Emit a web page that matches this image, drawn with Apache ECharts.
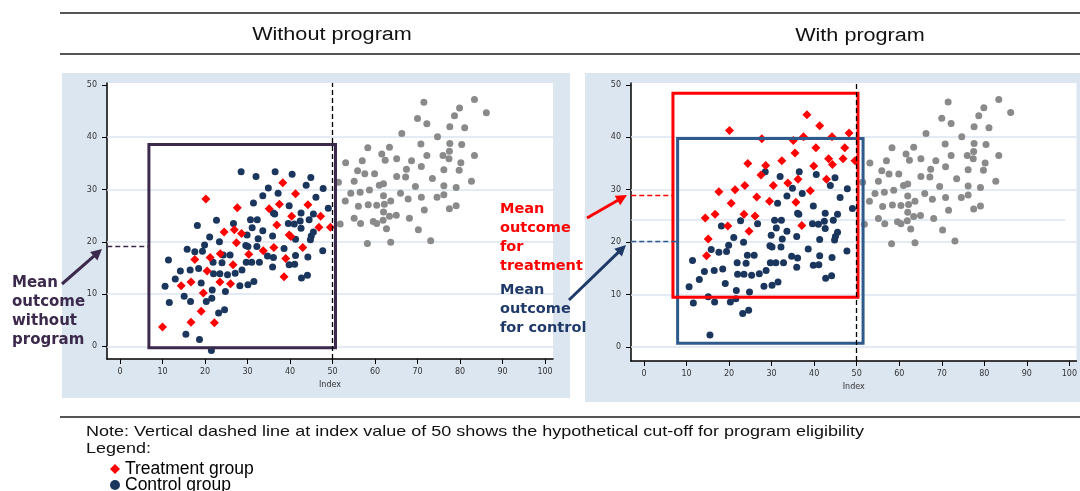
<!DOCTYPE html>
<html>
<head>
<meta charset="utf-8">
<title></title>
<script type="text/javascript" src="https://cdn.jsdelivr.net/npm/echarts@6/dist/echarts.min.js"></script>
</head>
<body style="margin:0;background:#fff;">

<div id="main" style="width: 1080px;height:491px;"></div>

<script type="text/javascript">

// axis ticks and light gridlines
let TICKS_X = [0, 10, 20, 30, 40, 50, 60, 70, 80, 90, 100];
let TICKS_Y = [0, 10, 20, 30, 40, 50];
let GRID_Y = [0, 10, 20, 30, 40];
let CUTOFF = 50;

// units above the cut-off (same in both panels)
let notEligible = [
	[71.5,46.7],[83.4,47.2],[79.9,45.6],[86.2,44.7],[78.7,44.1],[70.0,43.6],[72.2,42.6],[77.6,42.0],
	[81.1,41.8],[66.3,40.7],[74.7,40.1],[58.3,38.0],[63.4,38.1],[61.6,36.8],[70.8,38.7],[77.6,38.8],
	[80.4,38.6],[77.5,37.3],[72.2,36.5],[76.0,36.5],[83.4,36.5],[62.4,35.6],[65.1,35.9],[68.6,35.5],
	[77.4,35.9],[57.0,35.5],[53.1,35.1],[80.2,35.1],[70.9,34.4],[67.4,33.9],[55.9,33.6],[57.6,33.0],
	[59.9,33.0],[76.2,33.8],[79.8,33.7],[65.1,32.5],[67.2,32.4],[73.5,32.1],[55.1,31.6],[51.4,31.4],
	[62.0,31.1],[61.0,30.8],[69.5,30.6],[76.2,30.7],[79.1,30.4],[82.7,31.6],[58.7,29.9],[54.3,29.3],
	[56.5,29.5],[66.0,29.3],[62.0,28.8],[67.8,28.2],[70.9,28.5],[74.6,28.5],[76.2,29.0],[53.0,27.8],
	[56.1,26.8],[58.4,27.1],[60.4,27.0],[62.2,27.2],[63.7,27.8],[71.6,26.1],[77.5,26.3],[79.1,26.9],
	[62.0,25.7],[63.4,24.9],[65.0,25.1],[55.1,24.5],[56.6,23.5],[59.6,23.9],[60.4,23.5],[61.9,24.1],
	[68.1,24.5],[51.8,23.4],[62.7,22.5],[70.2,22.3],[58.2,19.7],[63.7,19.9],[73.1,20.2]
];

// control group, eligible units
let control = [
	[28.5,33.4],[32.0,32.5],[36.5,33.4],[40.5,32.9],[44.9,32.3],[43.8,30.8],[34.9,30.3],[47.8,30.2],
	[37.2,29.3],[33.6,28.8],[46.1,28.5],[31.4,27.4],[39.8,26.9],[49.0,26.4],[36.1,25.5],[36.4,25.3],
	[42.6,25.5],[45.5,25.3],[30.7,24.2],[32.3,24.2],[22.7,24.1],[26.7,23.5],[39.6,23.5],[41.0,23.4],
	[42.4,24.0],[44.5,24.2],[18.2,23.1],[42.6,22.6],[31.1,22.7],[33.6,22.1],[45.5,21.9],[29.9,21.3],
	[35.9,21.1],[41.3,20.5],[45.0,21.1],[44.8,20.4],[21.1,20.9],[32.5,20.6],[23.4,20.0],[19.9,19.4],
	[29.6,19.3],[30.1,19.1],[32.2,19.1],[38.6,18.7],[15.8,18.6],[17.6,18.1],[19.4,18.2],[47.7,18.3],
	[24.3,17.5],[25.9,17.5],[34.7,17.3],[36.1,17.0],[41.3,17.4],[44.2,17.1],[11.4,16.5],[21.9,16.1],
	[24.0,16.0],[29.7,16.1],[31.0,16.1],[32.8,16.1],[39.8,15.6],[41.1,15.7],[18.5,14.9],[16.5,14.6],
	[14.2,14.4],[22.0,13.9],[23.5,13.9],[25.3,13.7],[27.1,14.0],[28.7,14.6],[35.9,15.2],[13.0,12.9],
	[19.1,12.1],[10.6,11.5],[28.2,11.6],[30.1,11.8],[31.5,12.4],[42.7,13.1],[44.1,13.6],[21.7,10.8],
	[24.8,10.5],[15.1,9.6],[16.6,8.6],[11.6,8.4],[20.3,8.6],[21.6,9.2],[23.2,6.4],[24.6,7.0],[15.5,2.3]
];
let controlLeftOnly = [[18.7,1.3],[21.5,-0.8]];

// treatment group without the program
let treatWithout = [
	[38.3,31.3],[41.3,29.2],[20.2,28.2],[37.5,27.2],[44.2,27.1],[27.6,26.5],[35.1,26.3],[40.4,24.9],
	[47.2,24.9],[36.9,23.2],[46.8,22.8],[49.5,22.8],[26.9,22.3],[24.5,21.9],[28.6,21.6],[39.8,21.3],
	[40.2,21.0],[27.4,19.8],[36.2,18.9],[43.0,18.9],[33.7,18.3],[23.6,17.7],[30.3,17.6],[17.6,16.6],
	[21.2,17.0],[39.0,16.8],[20.5,14.4],[26.6,15.6],[16.7,12.3],[14.4,11.6],[23.5,12.3],[26.0,12.0],
	[38.6,13.3],[19.6,10.2],[19.1,6.7],[10.0,3.7],[16.7,4.6],[22.2,4.5]
];

// treatment group with the program
let treatWith = [
	[38.3,44.3],[41.3,42.2],[20.1,41.3],[48.2,40.8],[44.2,40.1],[37.5,40.1],[27.7,39.7],[35.1,39.4],
	[40.4,38.0],[47.2,38.0],[35.5,37.0],[43.4,35.9],[46.8,35.9],[49.6,35.5],[32.4,35.5],[24.4,35.0],
	[28.6,34.6],[44.3,34.8],[39.9,34.5],[27.5,32.8],[36.2,32.0],[42.9,32.0],[33.8,31.3],[30.4,30.8],
	[23.7,30.8],[21.4,30.0],[39.1,29.8],[17.6,29.6],[26.5,28.6],[35.7,27.6],[29.5,27.8],[20.5,27.4],
	[16.7,25.3],[14.4,24.6],[23.5,25.3],[26.1,25.0],[19.7,23.1],[24.7,22.1],[37.1,23.2],[15.1,20.6],
	[14.7,17.4]
];

// means and boxes: [xmin, ymin, xmax, ymax]
let meanWithout = 19.1, meanTreat = 29.0, meanControl = 20.1;
let boxWithout = [6.8, -0.25, 50.7, 38.6];
let boxTreat = [6.8, 9.5, 50.3, 48.4];
let boxControl = [7.9, 0.75, 51.5, 39.75];
let extraGridRight = 24.3;

let NAVY = '#1b365d', RED = '#ff0000', GREY = '#8a8a8a';
let GRIDC = '#dbe5f1';

function box(b, color){
	return [{ coord: [b[0], b[3]], itemStyle: { color: 'rgba(0,0,0,0)', borderColor: color, borderWidth: 3 } },
	        { coord: [b[2], b[1]] }];
}

function arrow(x1, y1, x2, y2, color){
	let dx = x2 - x1, dy = y2 - y1, L = Math.hypot(dx, dy), ux = dx / L, uy = dy / L;
	let hl = 11, hw = 5.5;
	let bx = x2 - ux * hl, by = y2 - uy * hl;
	return [
		{ type: 'line', z: 100, shape: { x1: x1, y1: y1, x2: bx + ux, y2: by + uy }, style: { stroke: color, lineWidth: 3 } },
		{ type: 'polygon', z: 100, shape: { points: [[x2, y2], [bx - uy * hw, by + ux * hw], [bx + uy * hw, by - ux * hw]] }, style: { fill: color } }
	];
}

function xAxisFor(gi, min, max){
	return {
		gridIndex: gi, type: 'value', min: min, max: max,
		splitLine: { show: false },
		axisLine: { onZero: false, lineStyle: { color: '#000', width: 1.5 } },
		axisTick: { customValues: TICKS_X, length: 5, lineStyle: { color: '#000' } },
		axisLabel: { customValues: TICKS_X, fontSize: 8, color: '#333', margin: 9, fontFamily: 'DejaVu Sans' },
		name: 'Index', nameLocation: 'middle', nameGap: 21,
		nameTextStyle: { fontSize: 8, color: '#333', fontFamily: 'DejaVu Sans' }
	};
}
function yAxisFor(gi, min, max){
	return {
		gridIndex: gi, type: 'value', min: min, max: max,
		splitLine: { show: false },
		axisLine: { onZero: false, lineStyle: { color: '#000', width: 1.5 } },
		axisTick: { customValues: TICKS_Y, length: 5, lineStyle: { color: '#000' } },
		axisLabel: { customValues: TICKS_Y, fontSize: 8, color: '#333', margin: 10, fontFamily: 'DejaVu Sans' }
	};
}

function gridLines(gi, extra){
	let d = GRID_Y.map((v) => ({ yAxis: v }));
	if(extra != null) d.push([{ coord: [-3, extra] }, { coord: [99, extra] }]);
	return {
		type: 'scatter', xAxisIndex: gi, yAxisIndex: gi, data: [], silent: true,
		markLine: { z: 1, silent: true, symbol: 'none', label: { show: false },
			lineStyle: { color: GRIDC, width: 1.5, type: 'solid' }, data: d }
	};
}

function cutoffAndMeans(gi, means, boxes){
	return {
		type: 'scatter', xAxisIndex: gi, yAxisIndex: gi, data: [], silent: true,
		markLine: { z: 6, silent: true, symbol: 'none', label: { show: false },
			data: [{ xAxis: CUTOFF, lineStyle: { color: '#000', width: 1.3, type: [5, 3] } }].concat(
				means.map((m) => [{ coord: [-3, m[0]], lineStyle: { color: m[1], width: 1.3, type: [5, 3] } }, { coord: [m[2], m[0]] }]))
		},
		markArea: { z: 5, silent: true, label: { show: false }, data: boxes }
	};
}

function points(gi, name, data, symbol, size, color){
	return { name: name, type: 'scatter', xAxisIndex: gi, yAxisIndex: gi, data: data, clip: false,
		symbol: symbol, symbolSize: size, itemStyle: { color: color, opacity: 1 } };
}

function legendRow(name, icon, top){
	return {
		left: 110, top: top, itemWidth: 10, itemHeight: 10, itemGap: 0, padding: 0,
		textStyle: { fontSize: 17.5, lineHeight: 16, color: '#000', fontFamily: 'Liberation Sans' },
		data: [{ name: name, icon: icon }]
	};
}

let textFont = '15px "Liberation Sans", Arial, sans-serif';

// the source image is stretched sideways, so plain texts get scaleX
function wideText(x, y, text, font, align){
	return { type: 'text', z: 100, x: x, y: y, scaleX: 1.2,
		style: { text: text, x: 0, y: 0, textAlign: align || 'left', textVerticalAlign: 'middle', font: font, fill: '#111' } };
}

let graphics = [
	{ type: 'rect', z: -1, shape: { x: 62, y: 73, width: 508, height: 325 }, style: { fill: '#dce6f1' } },
	{ type: 'rect', z: -1, shape: { x: 585, y: 73, width: 495, height: 329 }, style: { fill: '#dce6f1' } },
	{ type: 'line', z: 100, shape: { x1: 60, y1: 13, x2: 1080, y2: 13 }, style: { stroke: '#555', lineWidth: 2 } },
	{ type: 'line', z: 100, shape: { x1: 60, y1: 54, x2: 1080, y2: 54 }, style: { stroke: '#555', lineWidth: 2 } },
	{ type: 'line', z: 100, shape: { x1: 60, y1: 417, x2: 1080, y2: 417 }, style: { stroke: '#555', lineWidth: 2 } },
	wideText(332, 35, 'Without program', '18px "Liberation Sans", Arial, sans-serif', 'center'),
	wideText(860, 36, 'With program', '18px "Liberation Sans", Arial, sans-serif', 'center'),
	wideText(86, 432, 'Note: Vertical dashed line at index value of 50 shows the hypothetical cut-off for program eligibility', textFont),
	wideText(86, 449, 'Legend:', textFont),
	{ type: 'text', z: 100, style: { text: 'Mean\noutcome\nwithout\nprogram', x: 12, y: 273, lineHeight: 19.3, textVerticalAlign: 'top', font: 'bold 15px "DejaVu Sans", sans-serif', fill: '#3c2a4d' } },
	{ type: 'text', z: 100, style: { text: 'Mean\noutcome\nfor\ntreatment', x: 500, y: 200, lineHeight: 19, textVerticalAlign: 'top', font: 'bold 14.5px "DejaVu Sans", sans-serif', fill: RED } },
	{ type: 'text', z: 100, style: { text: 'Mean\noutcome\nfor control', x: 500, y: 281, lineHeight: 19, textVerticalAlign: 'top', font: 'bold 14.5px "DejaVu Sans", sans-serif', fill: '#1f3a68' } }
]
.concat(arrow(62, 284, 102, 249, '#3c2a4d'))
.concat(arrow(587, 218, 627, 195, RED))
.concat(arrow(569, 300, 626, 245, '#1f3a68'));

var myChart = echarts.init(document.getElementById('main'));

var option = {
	backgroundColor: '#fff',
	animation: false,
	grid: [
		{ left: 107, top: 83, width: 446, height: 276, show: true, backgroundColor: '#fff', borderWidth: 0 },
		{ left: 631, top: 83, width: 447, height: 278, show: true, backgroundColor: '#fff', borderWidth: 0 }
	],
	xAxis: [xAxisFor(0, -3.06, 101.88), xAxisFor(1, -3.06, 101.67)],
	yAxis: [yAxisFor(0, -2.41, 50.37), yAxisFor(1, -2.65, 50.34)],
	legend: [
		legendRow('Treatment group', 'diamond', 460),
		legendRow('Control group', 'circle', 476)
	],
	graphic: { elements: graphics },
	series: [
		gridLines(0, null),
		gridLines(1, extraGridRight),
		points(0, 'Not eligible', notEligible, 'circle', 7, GREY),
		points(0, 'Control group', control.concat(controlLeftOnly), 'circle', 7, NAVY),
		points(0, 'Treatment group', treatWithout, 'diamond', 9, RED),
		points(1, 'Not eligible', notEligible, 'circle', 7, GREY),
		points(1, 'Control group', control, 'circle', 7, NAVY),
		points(1, 'Treatment group', treatWith, 'diamond', 9, RED),
		cutoffAndMeans(0, [[meanWithout, '#3c2a4d', boxWithout[0]]], [box(boxWithout, '#3c2a4d')]),
		cutoffAndMeans(1, [[meanTreat, RED, boxTreat[0]], [meanControl, '#2f5a8c', boxControl[0]]],
			[box(boxControl, '#2f5a8c'), box(boxTreat, RED)])
	]
};

myChart.setOption(option);

</script>

</body>
</html>
